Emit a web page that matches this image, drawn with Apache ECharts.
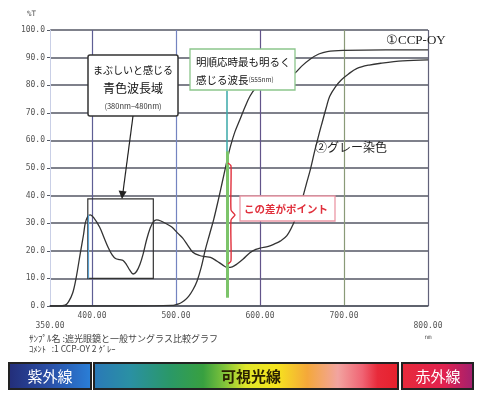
<!DOCTYPE html>
<html>
<head>
<meta charset="utf-8">
<script src="https://cdn.jsdelivr.net/npm/echarts@6/dist/echarts.min.js"></script>
<style>
html,body{margin:0;padding:0;background:#fff;}
#c{width:480px;height:396px;}
</style>
</head>
<body>
<div id="c"></div>
<script>
// ---- data ----
const grayNm = [350,360,368,372,377,381,386,390,392,395,398,402,409,414,419,424,428,433,437,441,445,449,453,457,461,465,469,473,477,482,489,495,502,508,514,520,528,535,541,549,555,561,567,573,580,588,595,600,610,618,624,632,640,645,650,655,660,665,670,674,679,683,690,697,705,715,730,745,770,800];
const grayT  = [0,0,0.3,1.5,4.7,10,19,26,30,32.5,33,32,28.6,25,21.4,18.5,17.2,16.8,16.5,15,13,11.6,12.5,15,19,24,28,30.5,31.2,30.8,29.7,28.6,26.4,24.6,22,19.5,18.3,17.9,17.6,16.2,15,14,14.2,15.3,17,19.3,20.5,21,21.6,22.6,23.5,25.5,30,34,38.4,44,49.5,56,62,66.5,72,76,79.5,82,84,86,87.3,88,88.8,89.2];
const ccpNm = [350,400,450,495,500,505,510,515,520,525,530,535,540,545,549,553,557,561,565,570,576,582,588,595,605,620,635,642,650,660,670,680,700,750,800];
const ccpT  = [0,0,0,0.2,0.5,1,2,3.5,5.8,9,14,20.5,26,31.5,36.6,42,47.5,53,58,63,67.5,72,76,79,81,82.5,83.5,84.5,87,89.5,91.3,92.2,92.6,92.8,92.8];
const peakNm = 561;            // 555nm marker as drawn
const blueBand = [395, 473];   // highlighted band
const blueBandT = [10, 38.8];
const xTicks = [350,400,500,600,700,800];

const chart = echarts.init(document.getElementById('c'), null, {renderer:'canvas'});
const mono = 'DejaVu Sans Mono';
const jp = 'Noto Sans CJK JP';
const pair = (xs, ys) => xs.map((x,i)=>[x, ys[i]]);
const vCols = ['transparent','#5e5e94','transparent','#7484c0','transparent','#62548a','transparent','#8a9a78','transparent','#62627a'];

function specGrad(stops){
  return new echarts.graphic.LinearGradient(0,0,1,0, stops.map(s=>({offset:s[0], color:s[1]})));
}

chart.setOption({
  backgroundColor:'#ffffff',
  animation:false,
  grid:{left:50,right:52,top:30,bottom:90},
  xAxis:{
    type:'value', min:350, max:800, interval:50,
    axisLine:{show:true, lineStyle:{color:'#555a66', width:1.5}},
    axisTick:{show:false},
    splitLine:{show:true, lineStyle:{color:vCols, width:1.2}},
    axisLabel:{
      fontFamily:mono, fontSize:8, color:'#555', margin:5, lineHeight:10,
      showMinLabel:true, showMaxLabel:true,
      formatter:function(v){
        if(v===350) return '\n350.00';
        if(v===800) return '\n800.00\n{n|nm}';
        if(xTicks.indexOf(v)>=0) return v.toFixed(2);
        return '';
      },
      rich:{n:{fontSize:6, fontFamily:mono, color:'#555', lineHeight:12}}
    }
  },
  yAxis:{
    type:'value', min:0, max:100, interval:10,
    axisLine:{show:true, lineStyle:{color:'#c9cfe6', width:1}},
    axisTick:{show:true, length:3, lineStyle:{color:'#555a66'}},
    splitLine:{show:true, lineStyle:{color:'#545764', width:1.6}},
    axisLabel:{fontFamily:mono, fontSize:8, color:'#555', margin:5, formatter:v=>v.toFixed(1)}
  },
  series:[
    {
      name:'グレー染色', type:'line', data:pair(grayNm, grayT), smooth:0.35, showSymbol:false,
      lineStyle:{color:'#333', width:1.3}, z:3,
      markArea:{
        silent:true,
        itemStyle:{color:'rgba(0,0,0,0)', borderColor:'#333', borderWidth:1.2},
        label:{show:false},
        data:[[{xAxis:blueBand[0], yAxis:blueBandT[1]},{xAxis:blueBand[1], yAxis:blueBandT[0]}]]
      },
      markLine:{
        silent:true, symbol:'none', label:{show:false},
        data:[
          [{coord:[blueBand[0],33], lineStyle:{color:'#5aa0d0', width:1.2, type:'solid'}},{coord:[blueBand[0],blueBandT[0]]}],
          [{coord:[peakNm,78], lineStyle:{color:'#3aa8a8', width:1.5, type:'solid'}},{coord:[peakNm,55]}],
          [{coord:[peakNm,56], lineStyle:{color:'#7cc46a', width:3, type:'solid'}},{coord:[peakNm,3]}]
        ]
      }
    },
    {
      name:'CCP-OY', type:'line', data:pair(ccpNm, ccpT), smooth:0.35, showSymbol:false,
      lineStyle:{color:'#333', width:1.3}, z:3
    }
  ],
  graphic:[
    {type:'text', left:27, top:10, style:{text:'%T', fontFamily:mono, fontSize:7.5, fill:'#555'}},
    // blue-band callout
    {type:'rect', z:100, shape:{x:88, y:55, width:90, height:61, r:2}, style:{fill:'#fff', stroke:'#333', lineWidth:1.5}},
    {type:'text', z:101, style:{x:133, y:70, text:'まぶしいと感じる', fontFamily:jp, fontSize:10, fill:'#111', align:'center', verticalAlign:'middle'}},
    {type:'text', z:101, style:{x:133, y:88, text:'青色波長域', fontFamily:jp, fontSize:12, fill:'#111', align:'center', verticalAlign:'middle'}},
    {type:'text', z:101, style:{x:133, y:106, text:'(380nm−480nm)', fontFamily:jp, fontSize:7.5, fill:'#333', align:'center', verticalAlign:'middle'}},
    {type:'line', z:100, shape:{x1:133, y1:116, x2:123, y2:192}, style:{stroke:'#222', lineWidth:1.2}},
    {type:'polygon', z:100, shape:{points:[[122,199],[118.6,190.6],[126.6,191.6]]}, style:{fill:'#222'}},
    // 555nm callout
    {type:'rect', z:100, shape:{x:190, y:49, width:105, height:41}, style:{fill:'#fff', stroke:'#8cc68c', lineWidth:1.3}},
    {type:'text', z:101, style:{x:196, y:62, text:'明順応時最も明るく', fontFamily:jp, fontSize:10.5, fill:'#111', verticalAlign:'middle'}},
    {type:'text', z:101, style:{x:196, y:80, text:'感じる波長{s|(555nm)}', fontFamily:jp, fontSize:10.5, fill:'#111', verticalAlign:'middle',
      rich:{s:{fontFamily:jp, fontSize:6.5, fill:'#333'}}}},
    // red bracket + label
    {type:'polyline', z:100, shape:{points:[[228,163],[231,166],[231,210],[235,215],[231,220],[231,261],[228,264]], smooth:0.2}, style:{stroke:'#e0303c', lineWidth:1.4, fill:null}},
    {type:'rect', z:100, shape:{x:240, y:196, width:95, height:25}, style:{fill:'#fff', stroke:'#eb98a6', lineWidth:1.3}},
    {type:'text', z:101, style:{x:286, y:209, text:'この差がポイント', fontFamily:jp, fontSize:10.5, fontWeight:'bold', fill:'#e0303c', align:'center', verticalAlign:'middle'}},
    // curve labels
    {type:'text', z:101, style:{x:386, y:41, text:'①CCP-OY', fontFamily:'Liberation Serif', fontSize:13, fill:'#222', verticalAlign:'middle'}},
    {type:'text', z:101, style:{x:315, y:147, text:'②グレー染色', fontFamily:jp, fontSize:12, fill:'#222', verticalAlign:'middle'}},
    // footer text
    {type:'text', style:{x:29, y:339, text:'ｻﾝﾌﾟﾙ名 :遮光眼鏡と一般サングラス比較グラフ', fontFamily:jp, fontSize:9, fill:'#444', verticalAlign:'middle'}},
    {type:'text', style:{x:29, y:349, text:'ｺﾒﾝﾄ   :1 CCP-OY 2 ｸﾞﾚｰ', fontFamily:jp, fontSize:8.5, fill:'#444', verticalAlign:'middle'}},
    // spectrum bars
    {type:'rect', shape:{x:9, y:363, width:82, height:26}, style:{fill:specGrad([[0,'#232d78'],[0.5,'#2a50a8'],[1,'#2a80d8']]), stroke:'#222', lineWidth:2}},
    {type:'text', style:{x:50, y:376, text:'紫外線', fontFamily:jp, fontSize:15, fill:'#fff', align:'center', verticalAlign:'middle'}},
    {type:'rect', shape:{x:94, y:363, width:304, height:26}, style:{fill:specGrad([[0,'#2a78b8'],[0.12,'#2a90a4'],[0.25,'#2a9868'],[0.36,'#38a040'],[0.43,'#80c43a'],[0.5,'#e0e62a'],[0.6,'#f6e41e'],[0.7,'#f4a83a'],[0.8,'#f2a4a0'],[0.88,'#f06474'],[0.93,'#e82a3a'],[1,'#e6202c']]), stroke:'#222', lineWidth:2}},
    {type:'text', style:{x:251, y:376, text:'可視光線', fontFamily:jp, fontSize:15, fontWeight:'bold', fill:'#2a2200', align:'center', verticalAlign:'middle'}},
    {type:'rect', shape:{x:402, y:363, width:71, height:26}, style:{fill:specGrad([[0,'#e82a3a'],[0.6,'#e02250'],[1,'#a02070']]), stroke:'#222', lineWidth:2}},
    {type:'text', style:{x:438, y:376, text:'赤外線', fontFamily:jp, fontSize:15, fill:'#fff', align:'center', verticalAlign:'middle'}}
  ]
});
</script>
</body>
</html>
